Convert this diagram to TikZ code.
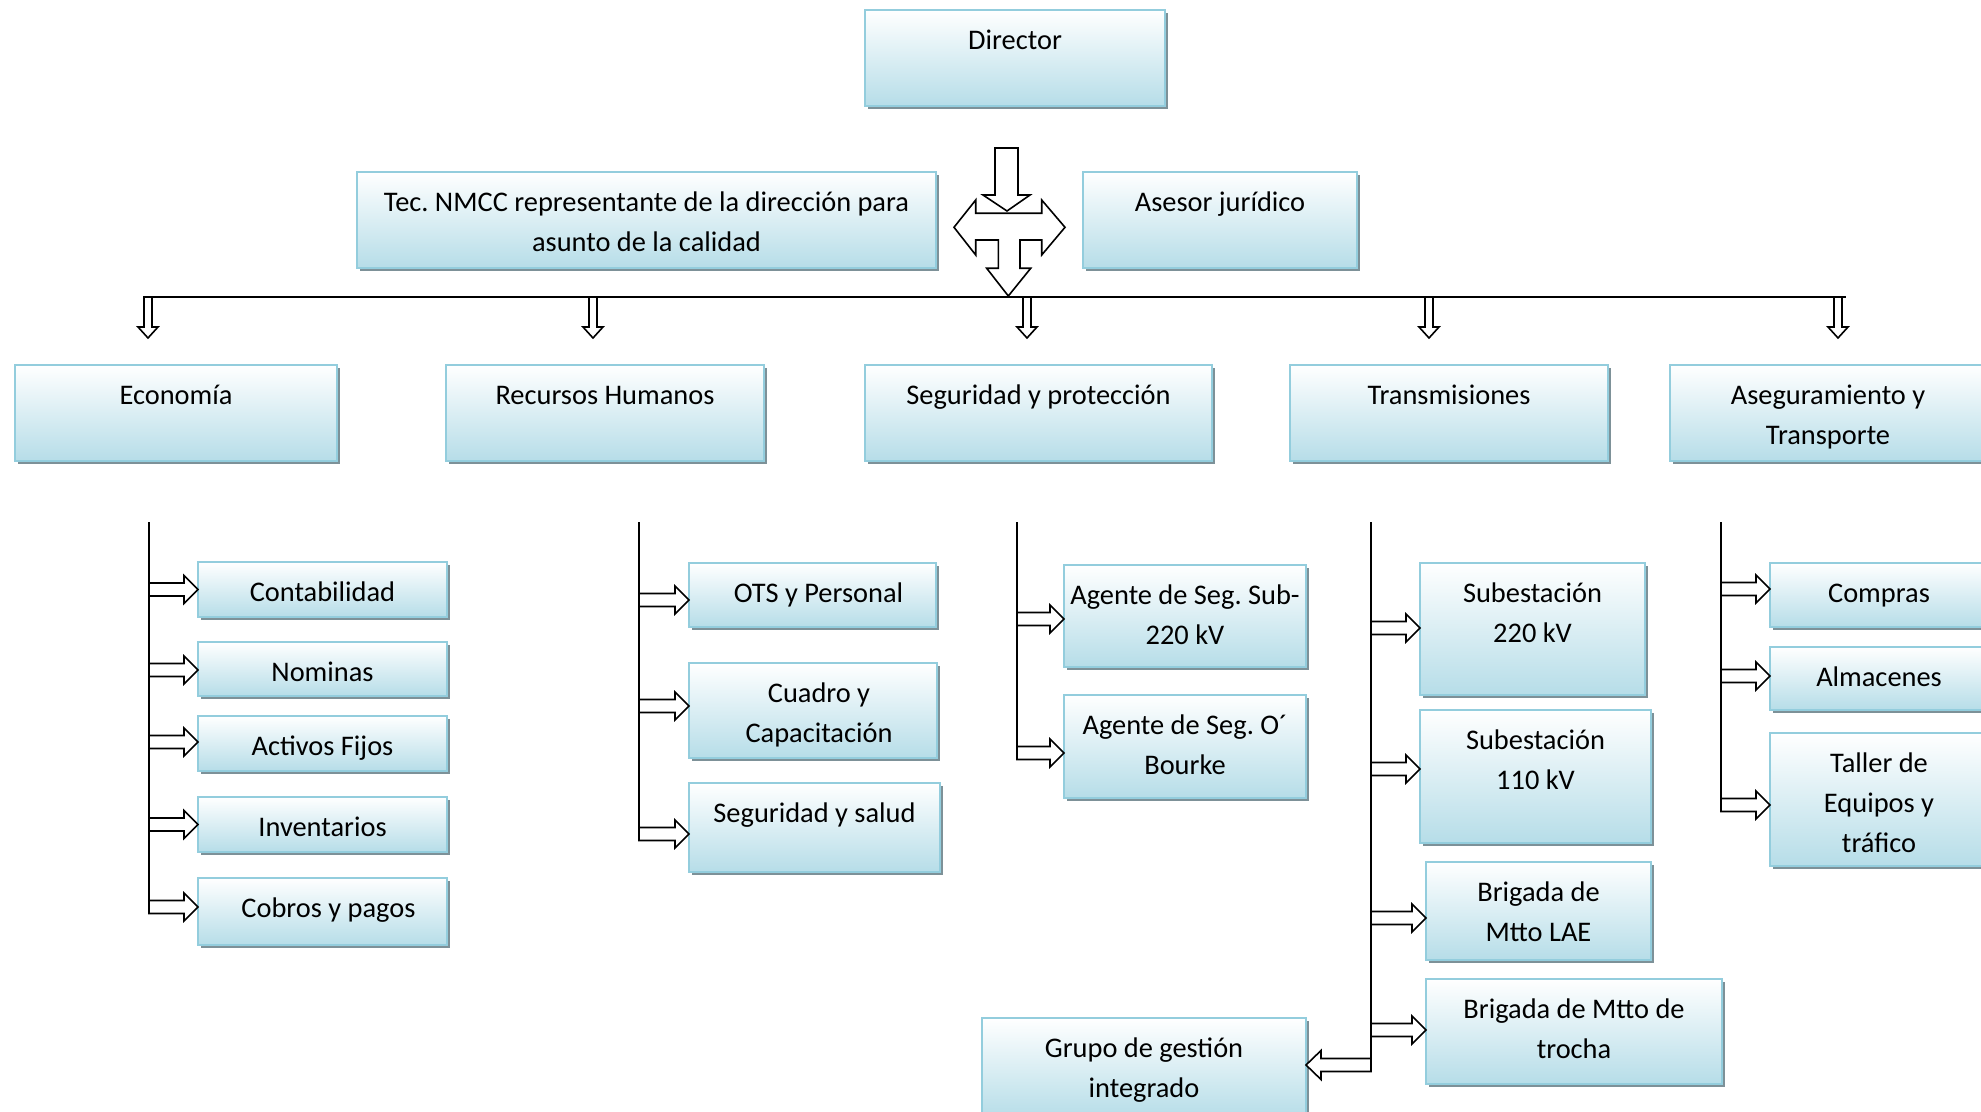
\documentclass[tikz,border=0pt]{standalone}
\usepackage{fontspec}
\setmainfont{Carlito}
\usetikzlibrary{calc,shadows}
\definecolor{boxborder}{RGB}{147,205,221}
\definecolor{boxfill}{RGB}{182,221,232}
\definecolor{shadowc}{RGB}{125,145,152}
\frenchspacing
\tikzset{
  box/.style={rectangle, draw=boxborder, line width=1pt, top color=white, bottom color=boxfill,
    inner sep=0pt, outer sep=0pt, anchor=north west,
    general shadow={fill=shadowc, shadow xshift=1.5pt, shadow yshift=-1.5pt}},
  boxtext/.style={anchor=north, align=center, inner sep=0pt, font=\fontsize{14.2}{20}\selectfont\frenchspacing},
  blockarr/.style={draw=black, fill=white, line width=0.8pt, line join=miter},
  trunk/.style={draw=black, line width=0.9pt},
}
% box: name, x, y (top-left, px), width, height, text, optional text x-offset
\newcommand\bx[7][0]{%
  \node[box, minimum width=#5*0.5pt, minimum height=#6*0.5pt] (#2) at (#3,#4) {};
  \node[boxtext] (#2-t) at ($(#2.north)+(#1,11)$) {\rule{0pt}{14pt}#7};
}
% right block arrow: trunk coordinate, box, dy
\newcommand\rarr[3]{%
  \coordinate (#2-in) at ($(#2.west)+(0,#3)$);
  \coordinate (#2-st) at (#1 |- #2-in);
  \draw[blockarr] ($(#2-st)+(0,-6.5)$) -- ($(#2-in)+(-14,-6.5)$) -- ($(#2-in)+(-14,-14)$) -- (#2-in)
     -- ($(#2-in)+(-14,14)$) -- ($(#2-in)+(-14,6.5)$) -- ($(#2-st)+(0,6.5)$) -- cycle;
}
% left block arrow
\newcommand\larr[3]{%
  \coordinate (#2-in) at ($(#2.east)+(0,#3)$);
  \coordinate (#2-st) at (#1 |- #2-in);
  \draw[blockarr] ($(#2-st)+(0,-6.5)$) -- ($(#2-in)+(15,-6.5)$) -- ($(#2-in)+(15,-14.5)$) -- (#2-in)
     -- ($(#2-in)+(15,14.5)$) -- ($(#2-in)+(15,6.5)$) -- ($(#2-st)+(0,6.5)$) -- cycle;
}
% down block arrow: start line coordinate, tip coordinate
\newcommand\darr[2]{%
  \coordinate (#2-st) at (#2 |- #1);
  \draw[blockarr] ($(#2-st)+(-4,0)$) -- ($(#2)+(-4,-11)$) -- ($(#2)+(-10,-11)$) -- (#2)
     -- ($(#2)+(10,-11)$) -- ($(#2)+(4,-11)$) -- ($(#2-st)+(4,0)$) -- cycle;
}
\begin{document}
\begin{tikzpicture}[x=0.5pt,y=-0.5pt]
\useasboundingbox (0,0) rectangle (1981,1112);
\clip (0,0) rectangle (1981,1112);
\fill[white] (0,0) rectangle (1981,1112);

% top level
\bx{dir}{865}{10}{300}{96}{Director}
\bx{tec}{357}{172}{579}{96}{Tec. NMCC representante de la dirección para\\asunto de la calidad}
\bx{ase}{1083}{172}{274}{96}{Asesor jurídico}

% central arrows
\draw[blockarr] (995,148) -- (995,195) -- (983,195) -- (1007,211) -- (1030,195) -- (1018,195) -- (1018,148) -- cycle;
\draw[blockarr] (975.7,213.3) -- (975.7,200) -- (954,227.3) -- (975.7,255) -- (975.7,240) -- (998.3,240)
  -- (998.3,268.3) -- (986.7,268.3) -- (1008.3,296) -- (1030.7,268.3) -- (1020,268.3) -- (1020,240)
  -- (1041.7,240) -- (1041.7,255) -- (1065,227.3) -- (1041.7,200) -- (1041.7,213.3) -- cycle;

% horizontal distribution line
\coordinate (hl-l) at (148,297);
\coordinate (hl-r) at (1846,297);
\draw[trunk] (hl-l) -- (hl-r);
\coordinate (d1) at (148,338);
\coordinate (d2) at (593,338);
\coordinate (d3) at (1027,338);
\coordinate (d4) at (1429,338);
\coordinate (d5) at (1838,338);
\darr{hl-l}{d1}
\darr{hl-l}{d2}
\darr{hl-l}{d3}
\darr{hl-l}{d4}
\darr{hl-l}{d5}

% departments
\bx{eco}{15}{365}{322}{96}{Economía}
\bx{rh}{446}{365}{318}{96}{Recursos Humanos}
\bx{seg}{865}{365}{347}{96}{Seguridad y protección}
\bx{tra}{1290}{365}{318}{96}{Transmisiones}
\bx{asg}{1670}{365}{316}{96}{Aseguramiento y\\Transporte}

% Economia
\bx{cont}{198}{562}{249}{55}{Contabilidad}
\bx{nom}{198}{642}{249}{54}{Nominas}
\bx{act}{198}{716}{249}{55}{Activos Fijos}
\bx{inv}{198}{797}{249}{55}{Inventarios}
\bx[6]{cob}{198}{878}{249}{67}{Cobros y pagos}
\coordinate (et) at (149,522);
\rarr{et}{cont}{0}
\rarr{et}{nom}{1}
\rarr{et}{act}{-1.5}
\rarr{et}{inv}{0}
\rarr{et}{cob}{-4.5}
\draw[trunk] (et) -- ($(et |- cob-in)+(0,6.5)$);

% Recursos Humanos
\bx[6]{ots}{689}{563}{247}{64}{OTS y Personal}
\bx[6]{cua}{689}{663}{248}{95}{Cuadro y\\Capacitación}
\bx{ss}{689}{783}{251}{89}{Seguridad y salud}
\coordinate (rt) at (639,522);
\rarr{rt}{ots}{5}
\rarr{rt}{cua}{-4.5}
\rarr{rt}{ss}{6.5}
\draw[trunk] (rt) -- ($(rt |- ss-in)+(0,6.5)$);

% Seguridad
\bx{ag1}{1064}{565}{242}{102}{Agente de Seg. Sub-\\220 kV}
\bx{ag2}{1064}{695}{242}{103}{Agente de Seg. O´\\Bourke}
\coordinate (sgt) at (1017,522);
\rarr{sgt}{ag1}{3}
\rarr{sgt}{ag2}{6.5}
\draw[trunk] (sgt) -- ($(sgt |- ag2-in)+(0,6.5)$);

% Transmisiones
\bx{s220}{1420}{563}{225}{132}{Subestación\\220 kV}
\bx{s110}{1420}{710}{231}{133}{Subestación\\110 kV}
\bx{blae}{1426}{862}{225}{98}{Brigada de\\Mtto LAE}
\bx{btro}{1426}{979}{296}{105}{Brigada de Mtto de\\trocha}
\bx{grupo}{982}{1018}{324}{100}{Grupo de gestión\\integrado}
\coordinate (tt) at (1371,522);
\rarr{tt}{s220}{-1}
\rarr{tt}{s110}{-7.5}
\rarr{tt}{blae}{7}
\rarr{tt}{btro}{-1.5}
\larr{tt}{grupo}{-3}
\draw[trunk] (tt) -- ($(tt |- grupo-in)+(0,6.5)$);

% Aseguramiento
\bx{comp}{1770}{563}{218}{64}{Compras}
\bx{alm}{1770}{647}{218}{63}{Almacenes}
\bx{tall}{1770}{733}{218}{133}{Taller de\\Equipos y\\tráfico}
\coordinate (agt) at (1721,522);
\rarr{agt}{comp}{-6}
\rarr{agt}{alm}{-2.5}
\rarr{agt}{tall}{5.5}
\draw[trunk] (agt) -- ($(agt |- tall-in)+(0,6.5)$);
\end{tikzpicture}
\end{document}
